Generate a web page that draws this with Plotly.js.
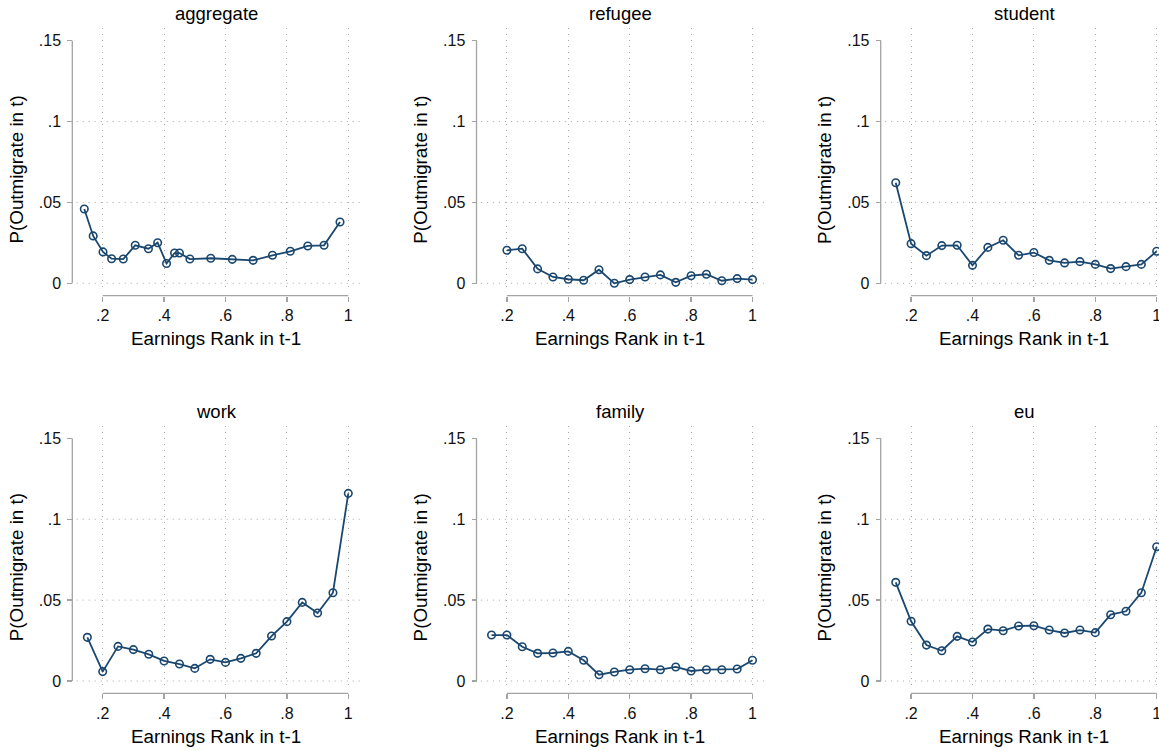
<!DOCTYPE html>
<html>
<head>
<meta charset="utf-8">
<script src="https://cdn.plot.ly/plotly-3.0.1.min.js"></script>
<style>html,body{margin:0;padding:0;background:#fff;}#chart{width:1159px;height:751px;}</style>
</head>
<body>
<div id="chart"></div>
<script>
// ---- data ----
const panelTitles = ["aggregate", "refugee", "student", "work", "family", "eu"];

const xAggregate = [0.140,0.169,0.201,0.229,0.267,0.306,0.349,0.379,0.408,0.434,0.450,0.484,0.552,0.622,0.690,0.753,0.811,0.868,0.921,0.973];
const yAggregate = [0.0459,0.0293,0.0194,0.0152,0.0150,0.0235,0.0214,0.0251,0.0122,0.0187,0.0187,0.0150,0.0155,0.0148,0.0142,0.0173,0.0198,0.0231,0.0235,0.0379];

const xRefugee = [0.20,0.25,0.30,0.35,0.40,0.45,0.50,0.55,0.60,0.65,0.70,0.75,0.80,0.85,0.90,0.95,1.00];
const yRefugee = [0.0204,0.0214,0.0089,0.0039,0.0025,0.0019,0.0084,0.0000,0.0023,0.0039,0.0052,0.0006,0.0047,0.0056,0.0016,0.0029,0.0023];

const xStudent = [0.15,0.20,0.25,0.30,0.35,0.40,0.45,0.50,0.55,0.60,0.65,0.70,0.75,0.80,0.85,0.90,0.95,1.00];
const yStudent = [0.0622,0.0245,0.0171,0.0233,0.0235,0.0111,0.0222,0.0266,0.0173,0.0190,0.0142,0.0126,0.0134,0.0117,0.0091,0.0103,0.0117,0.0198];

const xWork = [0.15,0.20,0.25,0.30,0.35,0.40,0.45,0.50,0.55,0.60,0.65,0.70,0.75,0.80,0.85,0.90,0.95,1.00];
const yWork = [0.0270,0.0058,0.0214,0.0194,0.0165,0.0124,0.0105,0.0078,0.0134,0.0115,0.0140,0.0171,0.0278,0.0367,0.0486,0.0420,0.0546,0.1160];

const xFamily = [0.15,0.20,0.25,0.30,0.35,0.40,0.45,0.50,0.55,0.60,0.65,0.70,0.75,0.80,0.85,0.90,0.95,1.00];
const yFamily = [0.0284,0.0284,0.0212,0.0171,0.0173,0.0183,0.0128,0.0039,0.0056,0.0070,0.0076,0.0070,0.0087,0.0062,0.0070,0.0070,0.0074,0.0128];

const xEu = [0.15,0.20,0.25,0.30,0.35,0.40,0.45,0.50,0.55,0.60,0.65,0.70,0.75,0.80,0.85,0.90,0.95,1.00];
const yEu = [0.0610,0.0369,0.0222,0.0187,0.0276,0.0241,0.0321,0.0311,0.0340,0.0342,0.0315,0.0297,0.0315,0.0299,0.0410,0.0431,0.0546,0.0830];

const xTickVals = [0.2,0.4,0.6,0.8,1];
const xTickText = [".2",".4",".6",".8","1"];
const yTickVals = [0,0.05,0.1,0.15];
const yTickText = ["0",".05",".1",".15"];
const yGridVals = [0,0.05,0.1];

const xTitle = "Earnings Rank in t-1";
const yTitle = "P(Outmigrate in t)";

// ---- layout helpers (pixel geometry) ----
const W = 1159, H = 751;
const colStep = 404.2, rowStep = 397.7;
const xPxPerUnit = 307, yPxPerUnit = 1617.5;
const x02px = 102.7;   // pixel of x=.2 in column 0
const y0px = 283.3;    // pixel of y=0 in row 0
const navy = "#1a476f";
const FONT = "Liberation Sans, Arial, sans-serif";
const gridColor = "#a8a8a8";
const gridDash = "1px,5px";
const axisColor = "#a3a3a3";

const series = [[xAggregate,yAggregate],[xRefugee,yRefugee],[xStudent,yStudent],[xWork,yWork],[xFamily,yFamily],[xEu,yEu]];

const traces = [];
const layout = {
  width: W, height: H,
  margin: {l:0, r:0, t:0, b:0},
  paper_bgcolor: "#fff", plot_bgcolor: "#fff",
  showlegend: false,
  font: {family: FONT, color: "#000"},
  shapes: [], annotations: []
};

series.forEach((s, i) => {
  const c = i % 3, r = Math.floor(i / 3);
  const sfx = i === 0 ? "" : String(i + 1);
  const xa = "x" + sfx, ya = "y" + sfx;
  const ox = c * colStep, oy = r * rowStep;

  const leftPx = 76.7 + ox, rightPx = Math.min(360 + ox, W);
  const topPx = 28 + oy, botPx = 289 + oy;
  const axisXpx = 72.3 + ox;     // y-axis line
  const axisYpx = 295.7 + oy;    // x-axis line

  const xAt = px => 0.2 + (px - (x02px + ox)) / xPxPerUnit;
  const yAt = px => ((y0px + oy) - px) / yPxPerUnit;

  traces.push({
    type: "scatter", mode: "lines+markers",
    x: s[0], y: s[1], xaxis: xa, yaxis: ya,
    line: {color: navy, width: 1.8},
    marker: {symbol: "circle-open", size: 7.5, color: navy, line: {width: 1.6, color: navy}},
    cliponaxis: false, hoverinfo: "x+y"
  });

  layout["xaxis" + sfx] = {
    domain: [leftPx / W, rightPx / W],
    range: [xAt(leftPx), xAt(rightPx)],
    anchor: "free", position: 1 - axisYpx / H,
    tickmode: "array", tickvals: xTickVals, ticktext: xTickText,
    ticks: "outside", ticklen: 5, tickwidth: 1.3, tickcolor: axisColor,
    tickfont: {family: FONT, size: 16, color: "#111"},
    ticklabeloverflow: "allow",
    showline: false, zeroline: false,
    showgrid: true, gridcolor: gridColor, gridwidth: 1, griddash: gridDash,
    fixedrange: true
  };
  layout["yaxis" + sfx] = {
    domain: [1 - botPx / H, 1 - topPx / H],
    range: [yAt(botPx), yAt(topPx)],
    anchor: "free", position: axisXpx / W,
    tickmode: "array", tickvals: yTickVals, ticktext: yTickText,
    ticks: "outside", ticklen: 5, tickwidth: 1.3, tickcolor: axisColor,
    tickfont: {family: FONT, size: 16, color: "#111"},
    ticklabelstandoff: 3, ticklabeloverflow: "allow",
    showline: false, zeroline: false, showgrid: false,
    fixedrange: true
  };

  // horizontal dotted gridlines (Stata omits the one at the top tick)
  yGridVals.forEach(v => layout.shapes.push({
    type: "line", xref: xa + " domain", x0: 0, x1: 1, yref: ya, y0: v, y1: v,
    line: {color: gridColor, width: 1, dash: gridDash}, layer: "below"
  }));
  // axis lines spanning only the tick range
  layout.shapes.push({
    type: "line", xref: xa, x0: xTickVals[0], x1: xTickVals[xTickVals.length - 1],
    yref: "paper", y0: 1 - axisYpx / H, y1: 1 - axisYpx / H,
    line: {color: axisColor, width: 1.3}
  });
  layout.shapes.push({
    type: "line", xref: "paper", x0: axisXpx / W, x1: axisXpx / W,
    yref: ya, y0: yTickVals[0], y1: yTickVals[yTickVals.length - 1],
    line: {color: axisColor, width: 1.3}
  });

  // titles
  layout.annotations.push({
    text: panelTitles[i], xref: "paper", yref: "paper",
    x: (216 + ox) / W, y: 1 - (13.3 + oy) / H, xanchor: "center", yanchor: "middle",
    showarrow: false, font: {family: FONT, size: 18.5, color: "#000"}
  });
  layout.annotations.push({
    text: xTitle, xref: "paper", yref: "paper",
    x: (215.5 + ox) / W, y: 1 - (338.3 + oy) / H, xanchor: "center", yanchor: "middle",
    showarrow: false, font: {family: FONT, size: 18.8, color: "#000"}
  });
  layout.annotations.push({
    text: yTitle, xref: "paper", yref: "paper", textangle: -90,
    x: (16 + ox) / W, y: 1 - (169.5 + oy) / H, xanchor: "center", yanchor: "middle",
    showarrow: false, font: {family: FONT, size: 18.8, color: "#000"}
  });
});

Plotly.newPlot("chart", traces, layout, {displayModeBar: false, staticPlot: true});
</script>
</body>
</html>
